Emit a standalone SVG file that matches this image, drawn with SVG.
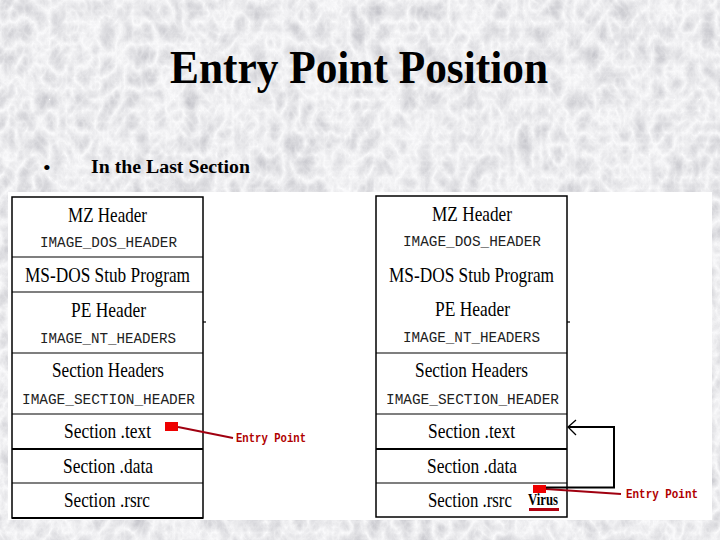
<svg xmlns="http://www.w3.org/2000/svg" width="720" height="540" viewBox="0 0 720 540">
  <style>
    .ser { font-family: "Liberation Serif", "Times New Roman", serif; fill: #000; }
    .big { font-size: 21px; }
    .mono { font-family: "Liberation Mono", "Courier New", monospace; font-size: 15px; fill: #222; }
    .box { fill: none; stroke: #000; stroke-width: 1.5; }
    .rule { stroke: #000; stroke-width: 1.2; }
    .thick { stroke: #000; stroke-width: 2.2; }
    .ep { font-family: "Liberation Mono", "Courier New", monospace; font-size: 12px; font-weight: bold; fill: #b00000; }
    .red { fill: #ee0000; }
    .redline { stroke: #a00010; stroke-width: 2; fill: none; }
    .conn { stroke: #000; stroke-width: 2; fill: none; }
  </style>
  <defs>
    <filter id="marble" x="0" y="0" width="720" height="540" filterUnits="userSpaceOnUse">
      <feTurbulence type="turbulence" baseFrequency="0.06 0.045" numOctaves="5" seed="11" result="t"/>
      <feColorMatrix in="t" type="matrix" values="-0.45 0 0 0 0.98  -0.45 0 0 0 0.98  -0.42 0 0 0 0.99  0 0 0 0 1"/>
    </filter>
  </defs>

  <!-- background -->
  <rect x="0" y="0" width="720" height="540" fill="#dadada"/>
  <rect x="0" y="0" width="720" height="540" filter="url(#marble)"/>

  <!-- title -->
  <text class="ser" x="170" y="83" font-size="47" font-weight="bold" textLength="378" lengthAdjust="spacingAndGlyphs">Entry Point Position</text>
  <text class="ser" x="43" y="175" font-size="22">•</text>
  <text class="ser" x="91" y="173" font-size="18" font-weight="bold" textLength="159" lengthAdjust="spacingAndGlyphs">In the Last Section</text>

  <!-- white image area -->
  <rect x="8" y="192" width="704" height="328" fill="#fff"/>

  <!-- LEFT TABLE -->
  <g id="left-table">
    <rect class="box" x="12" y="197" width="191" height="321"/>
    <line class="rule" x1="203" y1="322" x2="206" y2="322"/>
    <g id="l-mz">
      <text class="ser big" x="68" y="222" textLength="79" lengthAdjust="spacingAndGlyphs">MZ Header</text>
      <text class="mono" x="40" y="247" textLength="137" lengthAdjust="spacingAndGlyphs">IMAGE_DOS_HEADER</text>
    </g>
    <line class="rule" x1="12" y1="257" x2="203" y2="257"/>
    <g id="l-stub">
      <text class="ser big" x="25" y="282" textLength="165" lengthAdjust="spacingAndGlyphs">MS-DOS Stub Program</text>
    </g>
    <line class="rule" x1="12" y1="292" x2="203" y2="292"/>
    <g id="l-pe">
      <text class="ser big" x="71" y="317" textLength="75" lengthAdjust="spacingAndGlyphs">PE Header</text>
      <text class="mono" x="40" y="343" textLength="136" lengthAdjust="spacingAndGlyphs">IMAGE_NT_HEADERS</text>
    </g>
    <line class="rule" x1="12" y1="353" x2="203" y2="353"/>
    <g id="l-sh">
      <text class="ser big" x="52" y="377" textLength="112" lengthAdjust="spacingAndGlyphs">Section Headers</text>
      <text class="mono" x="22" y="404" textLength="173" lengthAdjust="spacingAndGlyphs">IMAGE_SECTION_HEADER</text>
    </g>
    <line class="rule" x1="12" y1="414" x2="203" y2="414"/>
    <g id="l-text">
      <text class="ser big" x="64" y="438" textLength="87" lengthAdjust="spacingAndGlyphs">Section .text</text>
      <rect class="red" x="165" y="422" width="13" height="9"/>
    </g>
    <line class="thick" x1="12" y1="449" x2="203" y2="449"/>
    <g id="l-data">
      <text class="ser big" x="63" y="473" textLength="90" lengthAdjust="spacingAndGlyphs">Section .data</text>
    </g>
    <line class="rule" x1="12" y1="483" x2="203" y2="483"/>
    <g id="l-rsrc">
      <text class="ser big" x="64" y="507" textLength="86" lengthAdjust="spacingAndGlyphs">Section .rsrc</text>
    </g>
    <line class="thick" x1="12" y1="518" x2="203" y2="518"/>
  </g>

  <!-- RIGHT TABLE -->
  <g id="right-table">
    <rect class="box" x="376" y="196" width="191" height="321"/>
    <line class="rule" x1="567" y1="322" x2="570" y2="322"/>
    <g id="r-mz">
      <text class="ser big" x="432" y="221" textLength="80" lengthAdjust="spacingAndGlyphs">MZ Header</text>
      <text class="mono" x="403" y="246" textLength="138" lengthAdjust="spacingAndGlyphs">IMAGE_DOS_HEADER</text>
    </g>
    <g id="r-stub">
      <text class="ser big" x="389" y="282" textLength="165" lengthAdjust="spacingAndGlyphs">MS-DOS Stub Program</text>
    </g>
    <g id="r-pe">
      <text class="ser big" x="435" y="316" textLength="75" lengthAdjust="spacingAndGlyphs">PE Header</text>
      <text class="mono" x="403" y="342" textLength="137" lengthAdjust="spacingAndGlyphs">IMAGE_NT_HEADERS</text>
    </g>
    <line class="rule" x1="376" y1="353" x2="567" y2="353"/>
    <g id="r-sh">
      <text class="ser big" x="415" y="377" textLength="113" lengthAdjust="spacingAndGlyphs">Section Headers</text>
      <text class="mono" x="386" y="404" textLength="173" lengthAdjust="spacingAndGlyphs">IMAGE_SECTION_HEADER</text>
    </g>
    <line class="rule" x1="376" y1="414" x2="567" y2="414"/>
    <g id="r-text">
      <text class="ser big" x="428" y="438" textLength="87" lengthAdjust="spacingAndGlyphs">Section .text</text>
    </g>
    <line class="thick" x1="376" y1="449" x2="567" y2="449"/>
    <g id="r-data">
      <text class="ser big" x="427" y="473" textLength="90" lengthAdjust="spacingAndGlyphs">Section .data</text>
    </g>
    <line class="rule" x1="376" y1="483" x2="567" y2="483"/>
    <g id="r-rsrc">
      <text class="ser big" transform="translate(428 507) scale(0.8 1)" x="0" y="0">Section .rsrc</text>
      <g id="virus">
        <rect class="red" x="533" y="485" width="13" height="8"/>
        <text class="ser" x="528" y="505" font-size="16" font-weight="bold" textLength="30" lengthAdjust="spacingAndGlyphs">Virus</text>
        <rect x="529" y="508" width="30" height="3" fill="#b00010"/>
      </g>
    </g>
  </g>

  <!-- labels -->
  <g id="left-entry-label">
    <text class="ep" x="236" y="442" textLength="70" lengthAdjust="spacingAndGlyphs">Entry Point</text>
  </g>
  <g id="right-entry-label">
    <text class="ep" x="626" y="498" textLength="72" lengthAdjust="spacingAndGlyphs">Entry Point</text>
  </g>

  <!-- connectors -->
  <g id="connectors">
    <path class="redline" d="M178 427 L233 438"/>
    <path class="redline" d="M546 489 L621 494"/>
    <path class="conn" d="M546 487.5 H614 V427 H568"/>
    <path d="M576 420 L568 427 L576 435" fill="none" stroke="#000" stroke-width="1.3"/>
  </g>
</svg>
